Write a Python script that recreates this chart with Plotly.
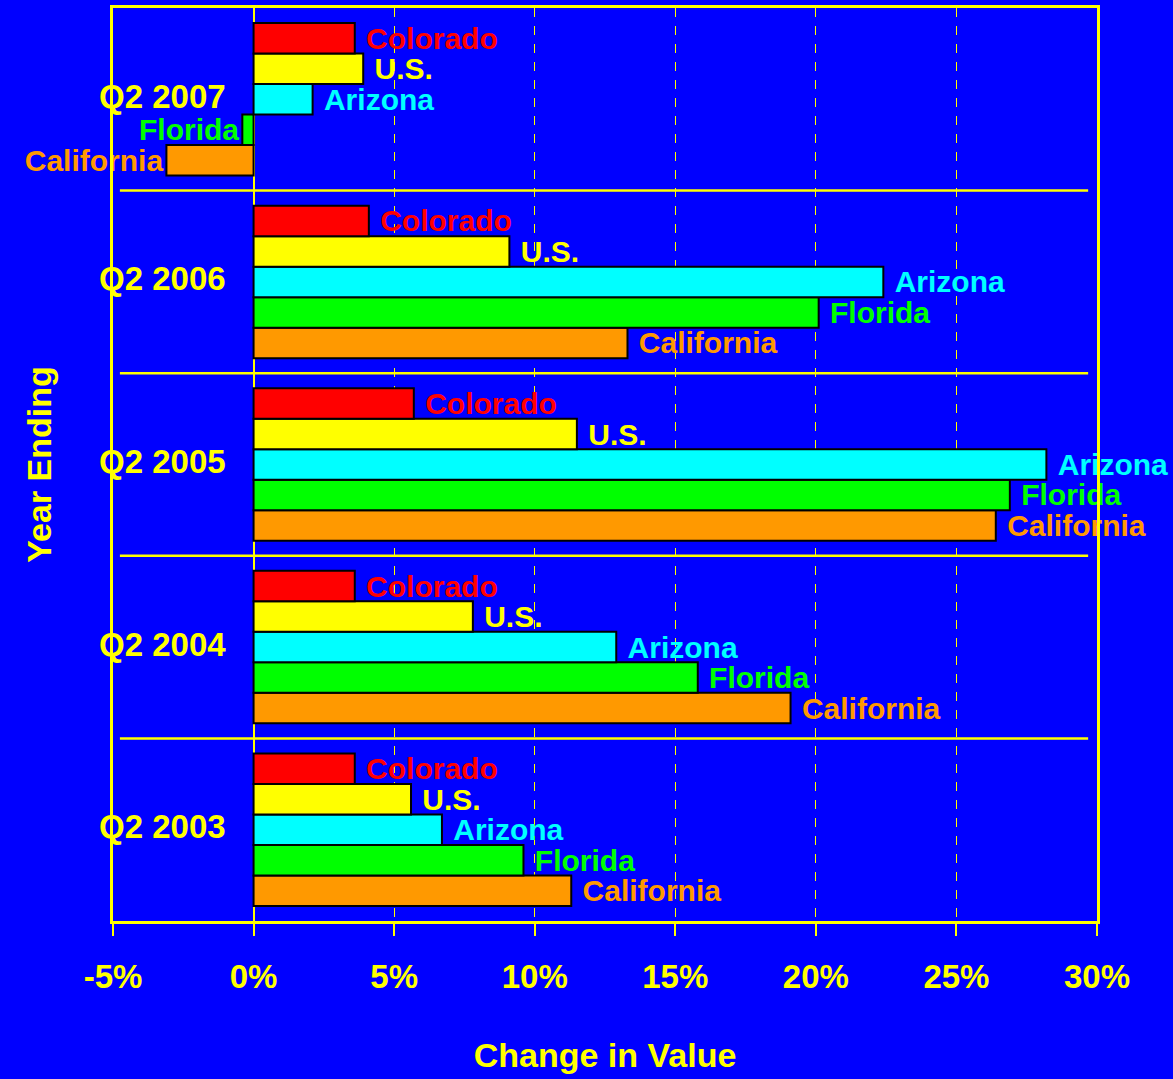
import plotly.graph_objects as go

# Year-over-year change in home value (%), year ending Q2
periods = ["Q2 2003", "Q2 2004", "Q2 2005", "Q2 2006", "Q2 2007"]

california = [11.3, 19.1, 26.4, 13.3, -3.1]
florida = [9.6, 15.8, 26.9, 20.1, -0.4]
arizona = [6.7, 12.9, 28.2, 22.4, 2.1]
us = [5.6, 7.8, 11.5, 9.1, 3.9]
colorado = [3.6, 3.6, 5.7, 4.1, 3.6]

x_ticks = [-5, 0, 5, 10, 15, 20, 25, 30]
x_tick_labels = ["-5%", "0%", "5%", "10%", "15%", "20%", "25%", "30%"]

BG = "#0000FF"
YELLOW = "#FFFF00"
FONT = "Liberation Sans, Arial, sans-serif"

# bottom-to-top order within each group
series = [
    ("California", california, "#FF9900"),
    ("Florida", florida, "#00FF00"),
    ("Arizona", arizona, "#00FFFF"),
    ("U.S.", us, "#FFFF00"),
    ("Colorado", colorado, "#FF0000"),
]

NBSP = "\u00a0"

fig = go.Figure()
for name, vals, color in series:
    labels = [(NBSP + name) if v >= 0 else name for v in vals]
    fig.add_trace(go.Bar(
        y=periods, x=vals, orientation="h", name=name,
        marker=dict(color=color, line=dict(color="black", width=2)),
        text=labels, textposition="outside", constraintext="none",
        cliponaxis=False,
        textfont=dict(family=FONT, size=30, color=color, weight="bold"),
        hoverinfo="skip",
    ))

# separators between period groups
shapes = []
for i in range(len(periods) - 1):
    shapes.append(dict(type="line", xref="paper", yref="y",
                       x0=0.007, x1=0.991, y0=i + 0.5, y1=i + 0.5,
                       line=dict(color=YELLOW, width=2.5), layer="above"))

# period labels placed just left of the zero line
annotations = []
for p in periods:
    annotations.append(dict(x=0, y=p, xref="x", yref="y", text=p,
                            xanchor="right", yanchor="middle",
                            xshift=-26, yshift=3,
                            showarrow=False,
                            font=dict(family=FONT, size=33, color=YELLOW, weight="bold")))

fig.update_layout(
    width=1173, height=1079,
    paper_bgcolor=BG, plot_bgcolor=BG,
    margin=dict(l=113, r=76, t=5, b=158),
    barmode="group", bargap=0.165, bargroupgap=0,
    showlegend=False,
    shapes=shapes, annotations=annotations,
    font=dict(family=FONT, color=YELLOW),
    xaxis=dict(
        range=[-5, 30], tickvals=x_ticks, ticktext=x_tick_labels,
        showgrid=True, gridcolor=YELLOW, gridwidth=1, griddash="9px,9px",
        zeroline=True, zerolinecolor=YELLOW, zerolinewidth=1.5,
        showline=True, linecolor=YELLOW, linewidth=3, mirror=True,
        ticks="outside", ticklen=12, tickwidth=1.5, tickcolor=YELLOW,
        ticklabelstandoff=12,
        tickfont=dict(family=FONT, size=33, color=YELLOW, weight="bold"),
        title=dict(text="Change in Value", standoff=50,
                   font=dict(family=FONT, size=34, color=YELLOW, weight="bold")),
    ),
    yaxis=dict(
        categoryorder="array", categoryarray=periods,
        range=[-0.5, 4.5], showticklabels=False, ticks="",
        showgrid=False, zeroline=False,
        showline=True, linecolor=YELLOW, linewidth=3, mirror=True,
        title=dict(text="Year Ending", standoff=49,
                   font=dict(family=FONT, size=34, color=YELLOW, weight="bold")),
    ),
)

fig.write_html("out.html")
